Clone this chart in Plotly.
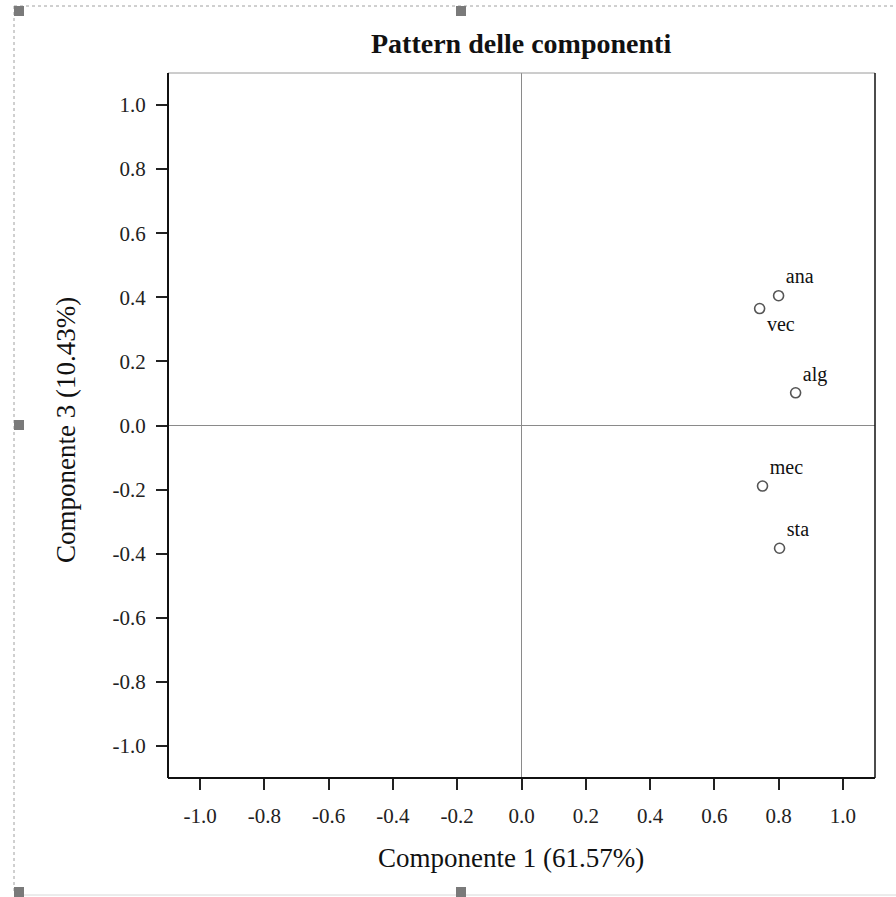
import plotly.graph_objects as go

labels = ["ana", "vec", "alg", "mec", "sta"]
comp1 = [0.800, 0.741, 0.853, 0.750, 0.803]
comp3 = [0.405, 0.365, 0.102, -0.189, -0.383]
label_pos = ["top right", "bottom right", "top right", "top right", "top right"]
tick_vals = [-1.0, -0.8, -0.6, -0.4, -0.2, 0.0, 0.2, 0.4, 0.6, 0.8, 1.0]
tick_text = ["-1.0", "-0.8", "-0.6", "-0.4", "-0.2", "0.0", "0.2", "0.4", "0.6", "0.8", "1.0"]

W, H = 896, 897
x0, x1, y0, y1 = 168, 875, 73, 778
FONT = "Liberation Serif"

fig = go.Figure()
fig.add_trace(go.Scatter(
    x=comp1, y=comp3, mode="markers+text", text=labels, textposition=label_pos,
    marker=dict(symbol="circle-open", size=10, color="#555555", line=dict(width=1.6)),
    textfont=dict(family=FONT, size=20, color="#111111"),
    showlegend=False, cliponaxis=False,
))

axis_common = dict(
    range=[-1.1, 1.1], tickvals=tick_vals, ticktext=tick_text,
    ticks="outside", ticklen=11, tickwidth=1.5, tickcolor="#222222",
    showgrid=False, zeroline=True, zerolinecolor="#8a8a8a", zerolinewidth=1,
    showline=False, tickfont=dict(family=FONT, size=21, color="#222222"),
)

fig.update_layout(
    width=W, height=H, margin=dict(l=0, r=0, t=0, b=0),
    paper_bgcolor="white", plot_bgcolor="white",
    xaxis=dict(domain=[x0 / W, x1 / W], ticklabelstandoff=8, **axis_common),
    yaxis=dict(domain=[1 - y1 / H, 1 - y0 / H], ticklabelstandoff=6, **axis_common),
    font=dict(family=FONT),
)

def px(x):
    return x / W

def py(y):
    return 1 - y / H

shapes = []
# plot frame
shapes.append(dict(type="line", xref="paper", yref="paper", x0=px(x0), x1=px(x1), y0=py(y0), y1=py(y0), line=dict(color="#9a9a9a", width=1)))
shapes.append(dict(type="line", xref="paper", yref="paper", x0=px(x1), x1=px(x1), y0=py(y0), y1=py(y1), line=dict(color="#111111", width=1.5)))
shapes.append(dict(type="line", xref="paper", yref="paper", x0=px(x0), x1=px(x0), y0=py(y0), y1=py(y1), line=dict(color="#111111", width=2)))
shapes.append(dict(type="line", xref="paper", yref="paper", x0=px(x0), x1=px(x1), y0=py(y1), y1=py(y1), line=dict(color="#111111", width=2)))
# outer dotted selection frame
shapes.append(dict(type="line", xref="paper", yref="paper", x0=px(14), x1=px(896), y0=py(6), y1=py(6), line=dict(color="#a0a0a0", width=1, dash="dot")))
shapes.append(dict(type="line", xref="paper", yref="paper", x0=px(14), x1=px(14), y0=py(6), y1=py(892), line=dict(color="#a0a0a0", width=1, dash="dot")))
shapes.append(dict(type="line", xref="paper", yref="paper", x0=px(14), x1=px(896), y0=py(895), y1=py(895), line=dict(color="#d8d8d8", width=1)))
# handles
for hx, hy in [(19, 11), (461, 11), (19, 425), (19, 892), (461, 892)]:
    shapes.append(dict(type="rect", xref="paper", yref="paper", x0=px(hx - 5), x1=px(hx + 5), y0=py(hy - 5), y1=py(hy + 5), fillcolor="#7a7a7a", line=dict(width=0)))
fig.update_layout(shapes=shapes)

fig.add_annotation(text="<b>Pattern delle componenti</b>", xref="paper", yref="paper", x=px(521), y=py(43),
                   xanchor="center", yanchor="middle", showarrow=False, font=dict(family=FONT, size=28, color="#111111"))
fig.add_annotation(text="Componente 1 (61.57%)", xref="paper", yref="paper", x=px(511), y=py(858),
                   xanchor="center", yanchor="middle", showarrow=False, font=dict(family=FONT, size=27, color="#111111"))
fig.add_annotation(text="Componente 3 (10.43%)", xref="paper", yref="paper", x=px(66), y=py(430),
                   xanchor="center", yanchor="middle", textangle=-90, showarrow=False, font=dict(family=FONT, size=27, color="#111111"))

fig.write_html("out.html")
